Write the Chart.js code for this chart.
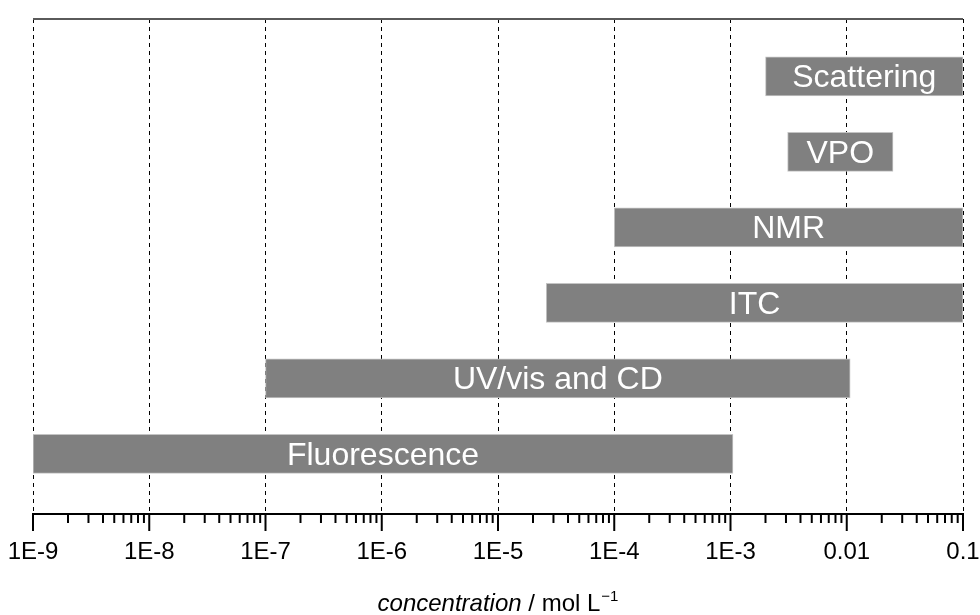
<!DOCTYPE html>
<html>
<head>
<meta charset="utf-8">
<script src="https://cdn.jsdelivr.net/npm/chart.js@4"></script>
<style>
  html, body { margin: 0; padding: 0; background: #fff; }
  canvas { display: block; }
</style>
</head>
<body>
<canvas id="chart" width="980" height="615"></canvas>
<script>
// methods, bottom row first
const methods = ['Fluorescence', 'UV/vis and CD', 'ITC', 'NMR', 'VPO', 'Scattering'];
const rowPos = [1, 2, 3, 4, 5, 6];
const rangeStart = [1e-9, 1e-7, 2.6e-5, 1e-4, 3.1e-3, 2e-3];
const rangeEnd = [1.05e-3, 1.07e-2, 0.1, 0.1, 2.5e-2, 0.1];
const tickLabels = ['1E-9', '1E-8', '1E-7', '1E-6', '1E-5', '1E-4', '1E-3', '0.01', '0.1'];

const FONT = '"Liberation Sans", Arial, sans-serif';

const isDecade = v => Math.abs(Math.log10(v) - Math.round(Math.log10(v))) < 1e-6;

const frame = {
  id: 'frame',
  afterDraw(chart) {
    const { ctx, chartArea: a } = chart;
    const x = chart.scales.x;
    ctx.save();
    // top border
    ctx.strokeStyle = '#5a5a5a';
    ctx.lineWidth = 2;
    ctx.beginPath();
    ctx.moveTo(a.left, a.top);
    ctx.lineTo(a.right, a.top);
    ctx.stroke();
    // major + minor ticks
    ctx.strokeStyle = '#000';
    ctx.lineWidth = 2;
    for (let n = -9; n <= -1; n++) {
      const px = x.getPixelForValue(Math.pow(10, n));
      ctx.beginPath();
      ctx.moveTo(px, a.bottom);
      ctx.lineTo(px, a.bottom + 17);
      ctx.stroke();
      if (n === -1) continue;
      for (let k = 2; k <= 9; k++) {
        const mx = x.getPixelForValue(k * Math.pow(10, n));
        ctx.beginPath();
        ctx.moveTo(mx, a.bottom);
        ctx.lineTo(mx, a.bottom + 9);
        ctx.stroke();
      }
    }
    // axis title
    const y = 611;
    const p1 = 'concentration';
    const p2 = ' / mol L';
    const p3 = '\u22121';
    ctx.fillStyle = '#000';
    ctx.textBaseline = 'alphabetic';
    ctx.textAlign = 'left';
    ctx.font = 'italic 24px ' + FONT;
    const w1 = ctx.measureText(p1).width;
    ctx.font = '24px ' + FONT;
    const w2 = ctx.measureText(p2).width;
    ctx.font = '15px ' + FONT;
    const w3 = ctx.measureText(p3).width;
    let sx = (a.left + a.right) / 2 - (w1 + w2 + w3 + 1) / 2;
    ctx.font = 'italic 24px ' + FONT;
    ctx.fillText(p1, sx, y);
    sx += w1;
    ctx.font = '24px ' + FONT;
    ctx.fillText(p2, sx, y);
    sx += w2 + 1;
    ctx.font = '15px ' + FONT;
    ctx.fillText(p3, sx, y - 10);
    ctx.restore();
  }
};

const barText = {
  id: 'barText',
  afterDatasetsDraw(chart) {
    const { ctx } = chart;
    const meta = chart.getDatasetMeta(0);
    ctx.save();
    ctx.fillStyle = '#ffffff';
    ctx.font = '32px ' + FONT;
    ctx.textAlign = 'center';
    ctx.textBaseline = 'middle';
    meta.data.forEach((el, i) => {
      ctx.fillText(methods[i], (el.x + el.base) / 2, el.y + 2);
    });
    ctx.restore();
  }
};

new Chart(document.getElementById('chart'), {
  type: 'bar',
  data: {
    datasets: [{
      data: methods.map((m, i) => ({ x: [rangeStart[i], rangeEnd[i]], y: rowPos[i] })),
      backgroundColor: '#808080',
      borderColor: '#c4c4c4',
      borderWidth: 1,
      borderSkipped: false,
      barThickness: 39
    }]
  },
  options: {
    indexAxis: 'y',
    responsive: false,
    devicePixelRatio: 1,
    animation: false,
    layout: { padding: { left: 33, right: 17, top: 19, bottom: 0 } },
    plugins: { legend: { display: false }, tooltip: { enabled: false } },
    scales: {
      x: {
        type: 'logarithmic',
        position: 'bottom',
        min: 1e-9,
        max: 0.1,
        afterFit(scale) { scale.height = 101; },
        border: { display: true, color: '#000', width: 2, dash: [4, 4] },
        grid: {
          color: ctx => (ctx.tick && isDecade(ctx.tick.value)) ? '#000' : 'rgba(0,0,0,0)',
          lineWidth: 1,
          drawTicks: true,
          tickLength: 24,
          tickColor: 'rgba(0,0,0,0)'
        },
        ticks: {
          autoSkip: false,
          maxRotation: 0,
          padding: 0,
          color: '#000',
          font: { family: FONT, size: 24 },
          callback: v => isDecade(v) ? tickLabels[Math.round(Math.log10(v)) + 9] : ''
        }
      },
      y: {
        type: 'linear',
        display: false,
        offset: false,
        min: 0.204,
        max: 6.76
      }
    }
  },
  plugins: [frame, barText]
});
</script>
</body>
</html>
